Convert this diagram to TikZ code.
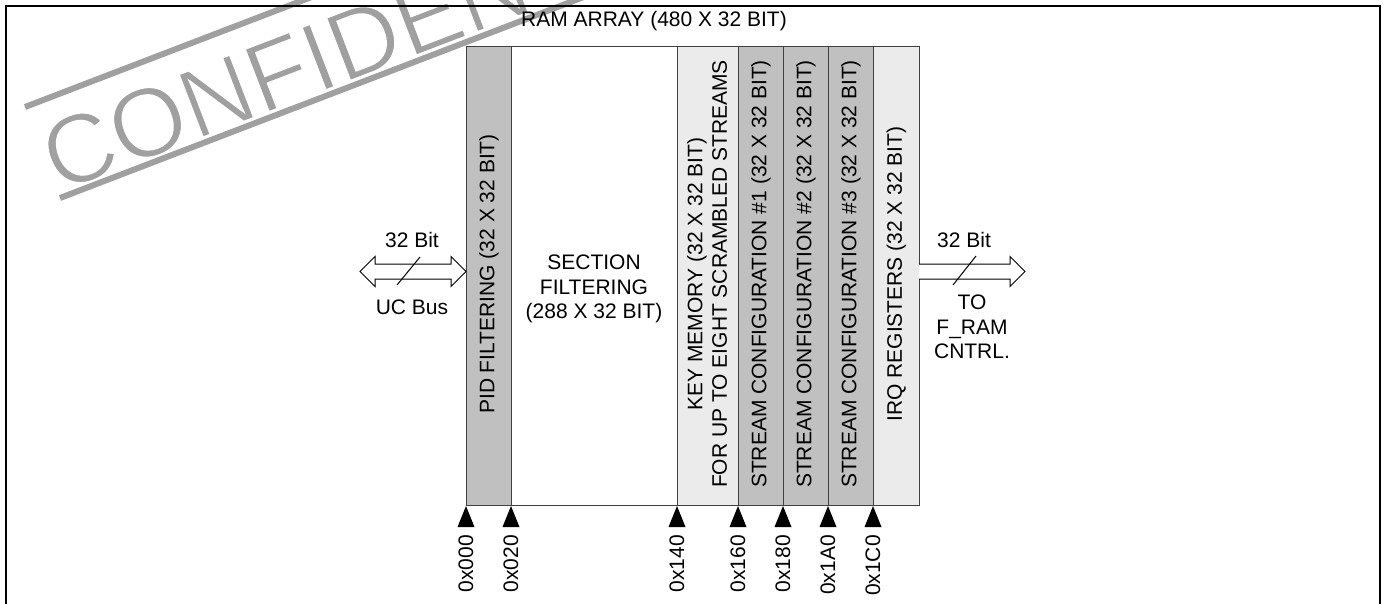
\documentclass[tikz,border=0pt]{standalone}
\usepackage{fontspec}
\setmainfont{Liberation Sans}
\usetikzlibrary{arrows.meta,calc}
\definecolor{colgray}{RGB}{192,192,192}
\definecolor{collight}{RGB}{235,235,235}
\definecolor{wmgray}{RGB}{160,160,160}
\definecolor{edge}{RGB}{64,64,64}
\begin{document}
\begin{tikzpicture}[x=1pt,y=-1pt,
  every node/.style={font=\fontsize{21}{24.5}\selectfont, inner sep=0pt},
  col/.style={draw=edge, line width=1pt, anchor=north west, minimum height=459pt},
  vtext/.style={rotate=90, align=center},
  addr/.style={rotate=90, anchor=east},
  bus/.style={draw=black, line width=1pt, fill=white, line join=miter},
  wmtext/.style={font=\fontsize{98}{98}\selectfont, text=wmgray, rotate=21, anchor=base west},
  wmline/.style={draw=wmgray, line width=6pt},
  frame/.style={draw=black, line width=2.5pt}]
\useasboundingbox (0,0) rectangle (1386,604);
% watermark (gray fill, thinned by a white outline stroke)
\begin{scope}
\clip (0,0) rectangle (1386,604);
\node[wmtext] (wm) at (58,193) {\special{pdf:literal direct 1 1 1 RG 2 Tr 1.8 w}CONFIDENTIAL\special{pdf:literal direct 0 Tr}};
\draw[wmline] (25,107) -- ++(-21:900);
\draw[wmline] (60,198) -- ++(-21:900);
\end{scope}
% frame
\draw[frame] (6,604) -- (6,6) -- (1380,6) -- (1380,604);
% title
\node[anchor=base] (title) at (654,27) {RAM ARRAY (480 X 32 BIT)};
% columns
\node[col, fill=colgray, minimum width=45pt] (pid) at (466,46) {};
\node[col, fill=white, minimum width=166pt] (sec) at (511,46) {};
\node[col, fill=collight, minimum width=61pt] (key) at (677,46) {};
\node[col, fill=colgray, minimum width=45pt] (s1) at (738,46) {};
\node[col, fill=colgray, minimum width=45pt] (s2) at (783,46) {};
\node[col, fill=colgray, minimum width=45pt] (s3) at (828,46) {};
\node[col, fill=collight, minimum width=46pt] (irq) at (873,46) {};
% column texts
\node[vtext] (pidt) at ($(pid.center)+(0,-2)$) {PID FILTERING (32 X 32 BIT)};
\node[align=center] (sect) at (594,289) {SECTION\\FILTERING\\(288 X 32 BIT)};
\node[vtext] (keyt) at ($(key.center)+(-1,-2)$) {KEY MEMORY (32 X 32 BIT)\\FOR UP TO EIGHT SCRAMBLED STREAMS};
\node[vtext] (s1t) at ($(s1.center)+(0,-2)$) {STREAM CONFIGURATION \#1 (32 X 32 BIT)};
\node[vtext] (s2t) at ($(s2.center)+(0,-2)$) {STREAM CONFIGURATION \#2 (32 X 32 BIT)};
\node[vtext] (s3t) at ($(s3.center)+(0,-2)$) {STREAM CONFIGURATION \#3 (32 X 32 BIT)};
\node[vtext] (irqt) at ($(irq.center)+(0,-2)$) {IRQ REGISTERS (32 X 32 BIT)};
% left bus
\coordinate (ucL) at (360,271.5);
\draw[bus] (ucL) -- ++(15,-15) -- ++(0,7.5) -- ++(76,0) -- ++(0,-7.5) -- ++(15,15)
  -- ++(-15,15) -- ++(0,-7.5) -- ++(-76,0) -- ++(0,7.5) -- cycle;
\draw[line width=1pt] (420,257) -- (397,285);
\node[anchor=base] (lbit) at (412,247) {32 Bit};
\node[anchor=base] (ucbus) at (412,314) {UC Bus};
% right bus
\coordinate (foL) at (919,271.5);
\fill[white] (foL) ++(0,-7.5) -- ++(91,0) -- ++(0,-7.5) -- ++(15,15) -- ++(-15,15) -- ++(0,-7.5) -- ++(-91,0) -- cycle;
\draw[bus, fill=none] (foL) ++(0,-7.5) -- ++(91,0) -- ++(0,-7.5) -- ++(15,15) -- ++(-15,15) -- ++(0,-7.5) -- ++(-91,0);
\draw[line width=1pt] (976,256) -- (953,285);
\node[anchor=base] (rbit) at (964,247) {32 Bit};
\node[align=center] (fram) at (972,327) {TO\\F\_RAM\\CNTRL.};
% address markers
\foreach \x/\l [count=\i] in {466/0x000,511/0x020,677/0x140,738/0x160,783/0x180,828/0x1A0,873/0x1C0}{
  \fill (\x,506) -- (\x+8.5,527) -- (\x-8.5,527) -- cycle;
  \node[addr] (a\i) at (\x,535) {\l};
}
\end{tikzpicture}
\end{document}
